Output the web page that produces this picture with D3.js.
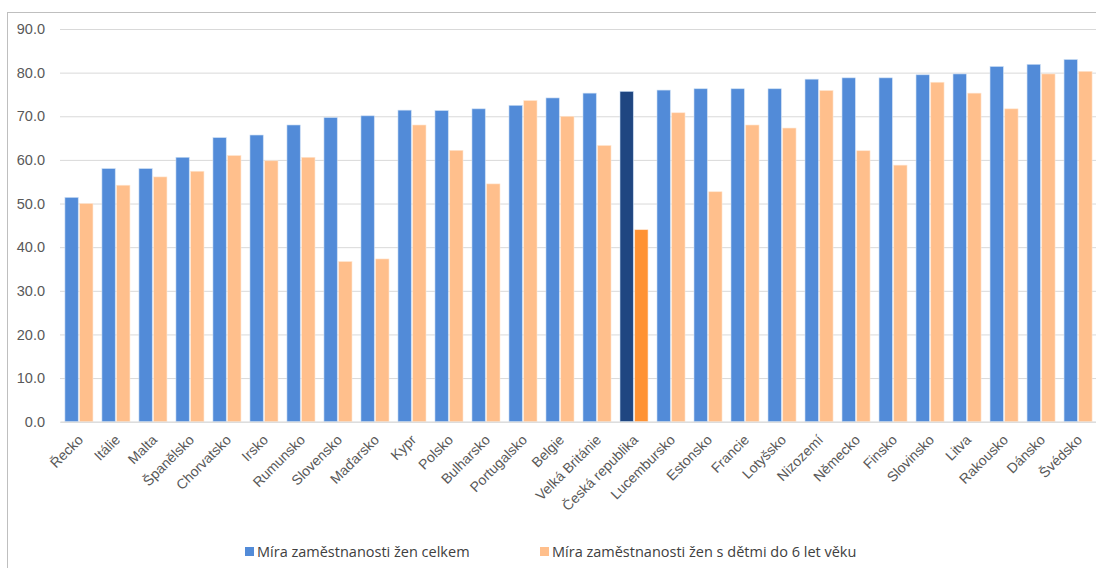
<!DOCTYPE html>
<html>
<head>
<meta charset="utf-8">
<script src="https://cdn.jsdelivr.net/npm/d3@7"></script>
<style>
  body { margin: 0; background: #fff; }
  svg { font-family: "Open Sans", "Noto Sans", sans-serif; }
  .tick text { fill: #595959; }
</style>
</head>
<body>
<div id="chart"></div>
<script>
const countries = ["Řecko", "Itálie", "Malta", "Španělsko", "Chorvatsko", "Irsko", "Rumunsko",
  "Slovensko", "Maďarsko", "Kypr", "Polsko", "Bulharsko", "Portugalsko", "Belgie",
  "Velká Británie", "Česká republika", "Lucembursko", "Estonsko", "Francie", "Lotyšsko",
  "Nizozemí", "Německo", "Finsko", "Slovinsko", "Litva", "Rakousko", "Dánsko", "Švédsko"];
const totalRate = [51.4, 58.0, 58.0, 60.6, 65.1, 65.7, 68.0, 69.7, 70.1, 71.4, 71.3, 71.7, 72.5, 74.2,
  75.3, 75.7, 76.0, 76.3, 76.3, 76.3, 78.5, 78.8, 78.8, 79.5, 79.7, 81.4, 81.9, 83.0];
const motherRate = [50.0, 54.2, 56.1, 57.4, 61.0, 59.8, 60.6, 36.7, 37.3, 68.0, 62.2, 54.5, 73.6, 70.0,
  63.3, 44.0, 70.8, 52.7, 68.0, 67.3, 75.9, 62.1, 58.8, 77.8, 75.3, 71.7, 79.7, 80.3];
const yTicks = [0, 10, 20, 30, 40, 50, 60, 70, 80, 90];
const seriesNames = ["Míra zaměstnanosti žen celkem", "Míra zaměstnanosti žen s dětmi do 6 let věku"];
const highlight = "Česká republika";

const width = 1096, height = 568;
const margin = { top: 29, right: 0, bottom: 146, left: 60 };
const colors = { total: "#528bd8", mother: "#ffbf8c", totalHi: "#1f4681", motherHi: "#ff9233" };

const svg = d3.select("#chart").append("svg")
  .attr("width", width)
  .attr("height", height);

// chart area frame
svg.append("rect")
  .attr("x", 7.5).attr("y", 12.5)
  .attr("width", width + 10).attr("height", height + 10)
  .attr("fill", "none")
  .attr("stroke", "#bfbfbf");

const x = d3.scaleBand()
  .domain(countries)
  .range([margin.left + 0.5, width + 0.5])
  .paddingInner(0.243)
  .paddingOuter(0.12);

const x1 = d3.scaleBand()
  .domain(["total", "mother"])
  .range([0, x.bandwidth()])
  .paddingInner(0.1);

const y = d3.scaleLinear()
  .domain([0, 90])
  .range([height - margin.bottom - 0.3, margin.top]);

// gridlines + y labels
const yAxis = svg.append("g")
  .attr("transform", `translate(${margin.left},0)`)
  .call(d3.axisLeft(y).tickValues(yTicks).tickFormat(d3.format(".1f")).tickSize(-(width - margin.left)).tickPadding(15));
yAxis.select(".domain").remove();
yAxis.selectAll(".tick line").attr("stroke", "#d9d9d9");
yAxis.selectAll(".tick text").attr("font-size", 14.5);

// bars
const groups = svg.append("g").selectAll("g")
  .data(countries)
  .join("g")
  .attr("transform", d => `translate(${x(d)},0)`);

groups.append("rect")
  .attr("x", x1("total"))
  .attr("y", (d, i) => y(totalRate[i]))
  .attr("width", x1.bandwidth())
  .attr("height", (d, i) => y(0) - y(totalRate[i]))
  .attr("fill", d => d === highlight ? colors.totalHi : colors.total)
  .attr("stroke", "#c9dcf3")
  .attr("stroke-width", 0.6);

groups.append("rect")
  .attr("x", x1("mother"))
  .attr("y", (d, i) => y(motherRate[i]))
  .attr("width", x1.bandwidth())
  .attr("height", (d, i) => y(0) - y(motherRate[i]))
  .attr("fill", d => d === highlight ? colors.motherHi : colors.mother)
  .attr("stroke", "#ffe6d1")
  .attr("stroke-width", 0.6);

// x axis
const xAxis = svg.append("g")
  .attr("transform", `translate(0,${y(0)})`)
  .call(d3.axisBottom(x).tickSize(0).tickPadding(0));
xAxis.select(".domain").attr("stroke", "#d9d9d9");
xAxis.selectAll(".tick text")
  .attr("font-size", 14)
  .attr("text-anchor", "end")
  .attr("dy", 0)
  .attr("transform", "translate(5,19) rotate(-45)");

// legend
const legend = svg.append("g").attr("transform", "translate(245,547)");
const legendX = [0, 295];
const legendColors = [colors.total, colors.mother];
seriesNames.forEach((name, i) => {
  const item = legend.append("g").attr("transform", `translate(${legendX[i]},0)`);
  item.append("rect").attr("width", 9).attr("height", 9).attr("fill", legendColors[i]);
  item.append("text")
    .attr("x", 12).attr("y", 10)
    .attr("font-size", 14.5)
    .attr("fill", "#404040")
    .text(name);
});
</script>
</body>
</html>
